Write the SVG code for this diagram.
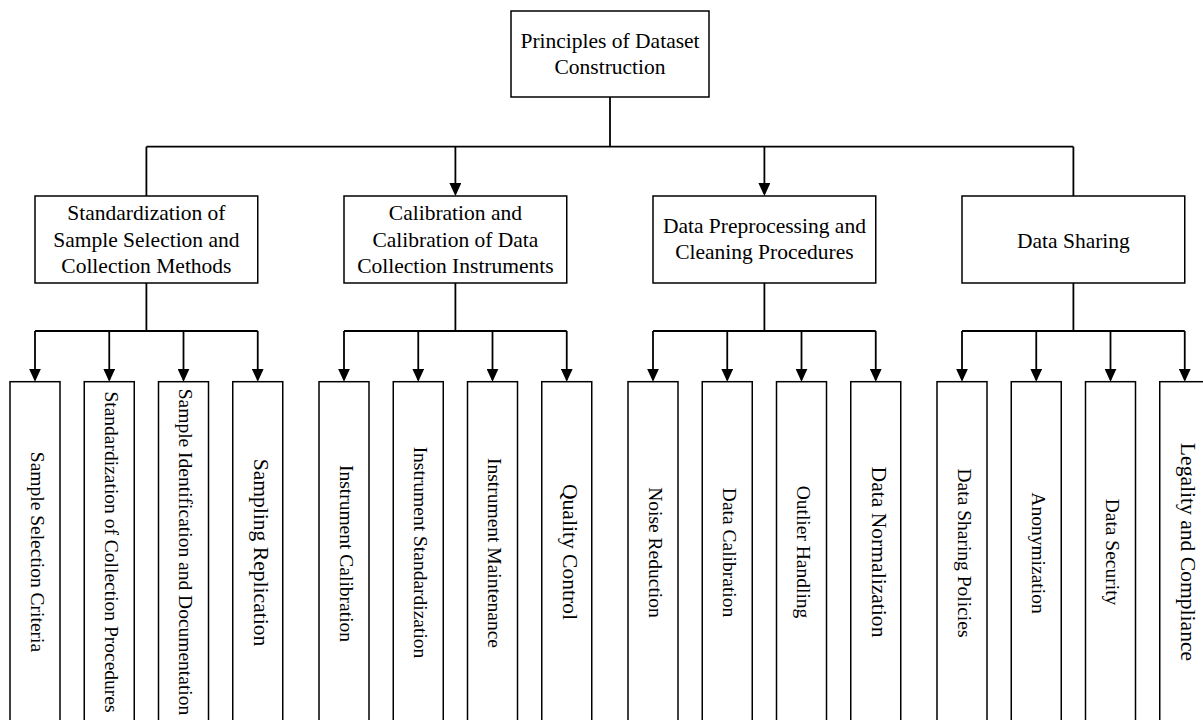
<svg xmlns="http://www.w3.org/2000/svg" width="1203" height="720" viewBox="0 0 1203 720">
<style>
.box{fill:#fff;stroke:#000;stroke-width:1.5}
.con{fill:none;stroke:#000;stroke-width:1.8}
.t{font-family:"Liberation Serif","Times New Roman",serif;font-size:21.5px;fill:#000;text-anchor:middle}
.s{font-family:"Liberation Serif","Times New Roman",serif;font-size:19.5px;fill:#000;text-anchor:middle}
.l{font-family:"Liberation Serif","Times New Roman",serif;font-size:21.6px;fill:#000;text-anchor:middle}
</style>
<defs>
<marker id="arr" markerUnits="userSpaceOnUse" viewBox="0 -6 13 12" refX="11" refY="0" markerWidth="13" markerHeight="12" orient="auto">
<path d="M0,-6 L13,0 L0,6 z" fill="#000"/>
</marker>
</defs>
<rect width="1203" height="720" fill="#fff"/>
<g id="connectors">
<path class="con" d="M610,97 V146.7 M146.4,146.7 H1073.4 M146.4,146.7 V196 M1073.4,146.7 V196"/>
<path class="con" d="M455.4,146.7 V194" marker-end="url(#arr)"/>
<path class="con" d="M764.4,146.7 V194" marker-end="url(#arr)"/>
<path class="con" d="M146.4,283 V331 M35,331 H257.75 M455.4,283 V331 M344,331 H566.75 M764.4,283 V331 M653,331 H875.75 M1073.4,283 V331 M962,331 H1184.75"/>
<path class="con" d="M35,331 V379.7" marker-end="url(#arr)"/>
<path class="con" d="M109.25,331 V379.7" marker-end="url(#arr)"/>
<path class="con" d="M183.5,331 V379.7" marker-end="url(#arr)"/>
<path class="con" d="M257.75,331 V379.7" marker-end="url(#arr)"/>
<path class="con" d="M344,331 V379.7" marker-end="url(#arr)"/>
<path class="con" d="M418.25,331 V379.7" marker-end="url(#arr)"/>
<path class="con" d="M492.5,331 V379.7" marker-end="url(#arr)"/>
<path class="con" d="M566.75,331 V379.7" marker-end="url(#arr)"/>
<path class="con" d="M653,331 V379.7" marker-end="url(#arr)"/>
<path class="con" d="M727.25,331 V379.7" marker-end="url(#arr)"/>
<path class="con" d="M801.5,331 V379.7" marker-end="url(#arr)"/>
<path class="con" d="M875.75,331 V379.7" marker-end="url(#arr)"/>
<path class="con" d="M962,331 V379.7" marker-end="url(#arr)"/>
<path class="con" d="M1036.25,331 V379.7" marker-end="url(#arr)"/>
<path class="con" d="M1110.5,331 V379.7" marker-end="url(#arr)"/>
<path class="con" d="M1184.75,331 V379.7" marker-end="url(#arr)"/>
</g>
<g id="root">
<rect class="box" x="511" y="11" width="198" height="86"/>
<text class="t" x="610" y="48.3">Principles of Dataset</text>
<text class="t" x="610" y="73.8">Construction</text>
</g>
<g id="n1">
<rect class="box" x="35" y="196" width="222.75" height="87"/>
<text class="t" x="146.4" y="220">Standardization of</text>
<text class="t" x="146.4" y="246.5">Sample Selection and</text>
<text class="t" x="146.4" y="272.7">Collection Methods</text>
</g>
<g id="n2">
<rect class="box" x="344" y="196" width="222.75" height="87"/>
<text class="t" x="455.4" y="220">Calibration and</text>
<text class="t" x="455.4" y="246.5">Calibration of Data</text>
<text class="t" x="455.4" y="272.7">Collection Instruments</text>
</g>
<g id="n3">
<rect class="box" x="653" y="196" width="222.75" height="87"/>
<text class="t" x="764.4" y="233.3">Data Preprocessing and</text>
<text class="t" x="764.4" y="259.3">Cleaning Procedures</text>
</g>
<g id="n4">
<rect class="box" x="962" y="196" width="222.75" height="87"/>
<text class="t" x="1073.4" y="248.3">Data Sharing</text>
</g>
<g id="leaf1-1"><rect class="box" x="10" y="381.7" width="50" height="340"/><text class="s" transform="translate(30.5,552) rotate(90)">Sample Selection Criteria</text></g>
<g id="leaf1-2"><rect class="box" x="84.25" y="381.7" width="50" height="340"/><text class="s" transform="translate(104.75,552) rotate(90)">Standardization of Collection Procedures</text></g>
<g id="leaf1-3"><rect class="box" x="158.5" y="381.7" width="50" height="340"/><text class="s" transform="translate(179,552) rotate(90)">Sample Identification and Documentation</text></g>
<g id="leaf1-4"><rect class="box" x="232.75" y="381.7" width="50" height="340"/><text class="l" transform="translate(253.75,552.5) rotate(90)">Sampling Replication</text></g>
<g id="leaf2-1"><rect class="box" x="319" y="381.7" width="50" height="340"/><text class="s" transform="translate(339.5,553.5) rotate(90)">Instrument Calibration</text></g>
<g id="leaf2-2"><rect class="box" x="393.25" y="381.7" width="50" height="340"/><text class="s" transform="translate(413.75,552.5) rotate(90)">Instrument Standardization</text></g>
<g id="leaf2-3"><rect class="box" x="467.5" y="381.7" width="50" height="340"/><text class="s" transform="translate(488,553) rotate(90)">Instrument Maintenance</text></g>
<g id="leaf2-4"><rect class="box" x="541.75" y="381.7" width="50" height="340"/><text class="l" transform="translate(562.75,552) rotate(90)">Quality Control</text></g>
<g id="leaf3-1"><rect class="box" x="628" y="381.7" width="50" height="340"/><text class="s" transform="translate(648.5,552.5) rotate(90)">Noise Reduction</text></g>
<g id="leaf3-2"><rect class="box" x="702.25" y="381.7" width="50" height="340"/><text class="s" transform="translate(722.75,552.5) rotate(90)">Data Calibration</text></g>
<g id="leaf3-3"><rect class="box" x="776.5" y="381.7" width="50" height="340"/><text class="s" transform="translate(797,552) rotate(90)">Outlier Handling</text></g>
<g id="leaf3-4"><rect class="box" x="850.75" y="381.7" width="50" height="340"/><text class="l" transform="translate(871.75,552) rotate(90)">Data Normalization</text></g>
<g id="leaf4-1"><rect class="box" x="937" y="381.7" width="50" height="340"/><text class="s" transform="translate(957.5,553) rotate(90)">Data Sharing Policies</text></g>
<g id="leaf4-2"><rect class="box" x="1011.25" y="381.7" width="50" height="340"/><text class="s" transform="translate(1031.75,553) rotate(90)">Anonymization</text></g>
<g id="leaf4-3"><rect class="box" x="1085.5" y="381.7" width="50" height="340"/><text class="s" transform="translate(1106,552) rotate(90)">Data Security</text></g>
<g id="leaf4-4"><rect class="box" x="1159.75" y="381.7" width="50" height="340"/><text class="l" transform="translate(1180.75,552) rotate(90)">Legality and Compliance</text></g>
</svg>
